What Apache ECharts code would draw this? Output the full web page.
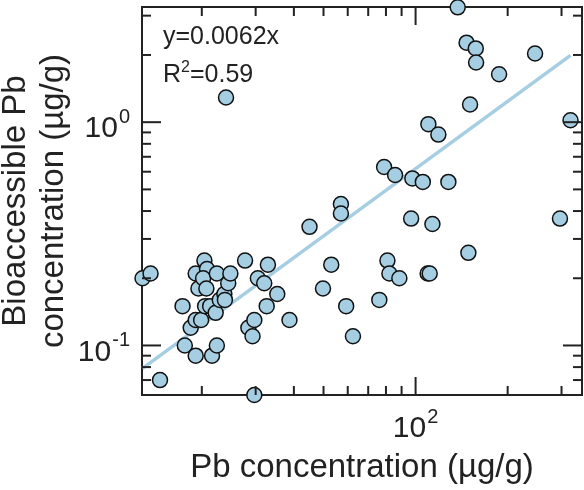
<!DOCTYPE html>
<html>
<head>
<meta charset="utf-8">
<script src="https://cdn.jsdelivr.net/npm/echarts@6/dist/echarts.min.js"></script>
<style>
html, body { margin: 0; padding: 0; background: #fff; }
#chart { width: 584px; height: 490px; }
</style>
</head>
<body>
<div id="chart"></div>
<script>
// Pb concentration (µg/g)
const pbTotal = [12.8, 13.6, 14.6, 17.3, 17.6, 18.4, 19.1, 19.1, 19.9, 19.1,
    19.5, 20.4, 20.8, 20.2, 20.7, 20.5, 21.3, 21.6, 22.4, 22.2,
    22.4, 22.9, 23.7, 23.8, 24.4, 24.8, 24.0, 27.7, 28.4, 29.7,
    29.3, 29.7, 30.5, 32.0, 32.9, 32.6, 35.3, 38.7, 45.0, 49.8,
    53.0, 57.0, 57.0, 59.3, 62.4, 76.1, 78.9, 80.9, 82.1, 85.7,
    88.5, 96.7, 97.6, 105.6, 110.1, 109.5, 111.2, 113.5, 118.7, 128,
    137.3, 146.8, 148.8, 150.7, 157.3, 157.7, 187.5, 245.8, 296.5, 321];
// Bioaccessible Pb (µg/g)
const pbBio = [0.20, 0.21, 0.07, 0.15, 0.10, 0.12, 0.09, 0.13, 0.13, 0.21,
    0.18, 0.24, 0.22, 0.20, 0.18, 0.15, 0.15, 0.09, 0.10, 0.14,
    0.21, 0.16, 0.17, 0.16, 0.19, 0.21, 1.29, 0.24, 0.12, 0.13,
    0.11, 0.06, 0.20, 0.19, 0.23, 0.15, 0.17, 0.13, 0.34, 0.18,
    0.23, 0.43, 0.39, 0.15, 0.11, 0.16, 0.63, 0.24, 0.21, 0.58,
    0.20, 0.37, 0.56, 0.54, 0.98, 0.21, 0.21, 0.35, 0.88, 0.54,
    3.27, 2.27, 0.26, 1.20, 2.14, 1.85, 1.64, 2.03, 0.37, 1.02];
// fit line y = 0.0062x, ends of data range
const fitX = [12.8, 321];
const fitY = [0.079, 1.99];

const xMajorTicks = [100];
const xMinorTicks = [20, 30, 40, 50, 60, 70, 80, 90, 200, 300];
const yMajorTicks = [0.1, 1];
const yMinorTicks = [0.07, 0.08, 0.09, 0.2, 0.3, 0.4, 0.5, 0.6, 0.7, 0.8, 0.9, 2, 3];

const X_MIN = 12.75, X_MAX = 350;
const Y_MIN = 0.06, Y_MAX = 3.28;
const FONT = "Liberation Sans";
const AXIS_COLOR = "#222";
const DOT_COLOR = "#a6cee3";

function powLabel(v) {
    const e = Math.log10(v);
    if (Math.abs(e - Math.round(e)) > 1e-6) return "";
    return "{b|10}{s|" + Math.round(e) + "}";
}

// base "10" pushed down by top padding, exponent lifted by bottom padding
const labelRich = {
    b: { fontSize: 30, lineHeight: 30, padding: [14, 0, 0, 0], fontFamily: FONT, color: AXIS_COLOR },
    s: { fontSize: 20, lineHeight: 20, padding: [0, 0, 10, 1], fontFamily: FONT, color: AXIS_COLOR },
};

// tick marks on all four sides, placed by the axis scales
function tickSeries(values, dir, len) {
    return {
        type: "custom",
        silent: true,
        clip: false,
        z: 5,
        data: values.map(v => [v, v]),
        renderItem: function (params, api) {
            const v = api.value(0);
            let lines;
            if (dir === "x") {
                const a = api.coord([v, Y_MIN]), b = api.coord([v, Y_MAX]);
                lines = [[a[0], a[1], a[0], a[1] - len], [b[0], b[1], b[0], b[1] + len]];
            } else {
                const a = api.coord([X_MIN, v]), b = api.coord([X_MAX, v]);
                lines = [[a[0], a[1], a[0] + len, a[1]], [b[0], b[1], b[0] - len, b[1]]];
            }
            return {
                type: "group",
                children: lines.map(l => ({
                    type: "line",
                    shape: { x1: l[0], y1: l[1], x2: l[2], y2: l[3] },
                    style: { stroke: AXIS_COLOR, lineWidth: 2 },
                })),
            };
        },
    };
}

const chart = echarts.init(document.getElementById("chart"));
chart.setOption({
    animation: false,
    grid: {
        left: 142, right: 2, top: 7, bottom: 95,
        outerBoundsMode: "none",
        containLabel: false,
        show: true, borderColor: AXIS_COLOR, borderWidth: 2,
    },
    xAxis: {
        type: "log",
        min: X_MIN, max: X_MAX,
        axisLine: { show: false },
        axisTick: { show: false },
        splitLine: { show: false },
        axisLabel: { formatter: powLabel, margin: 12, rich: labelRich },
    },
    yAxis: {
        type: "log",
        min: Y_MIN, max: Y_MAX,
        axisLine: { show: false },
        axisTick: { show: false },
        splitLine: { show: false },
        axisLabel: { formatter: powLabel, margin: 12, rich: labelRich },
        name: "Bioaccessible Pb\nconcentration (µg/g)",
        nameLocation: "middle",
        nameRotate: 90,
        nameGap: 69,
        nameMoveOverlap: false,
        nameTextStyle: { fontSize: 33, lineHeight: 38, fontFamily: FONT, color: AXIS_COLOR },
    },
    graphic: [
        {
            // x axis title
            type: "text", x: 362, y: 468, z: 10,
            style: {
                text: "Pb concentration (µg/g)", font: "33px " + FONT, fill: AXIS_COLOR,
                textAlign: "center", textVerticalAlign: "middle",
            },
        },
        {
            type: "text", left: 163, top: 25, z: 10,
            style: { text: "y=0.0062x", font: "25px " + FONT, fill: AXIS_COLOR },
        },
        {
            type: "text", left: 163, top: 55, z: 10,
            style: {
                text: "{n|R}{s|2}{n|=0.59}",
                rich: {
                    n: { fontSize: 25, lineHeight: 25, padding: [8, 0, 0, 0], fontFamily: FONT, fill: AXIS_COLOR },
                    s: { fontSize: 16, lineHeight: 16, padding: [0, 0, 8, 0], fontFamily: FONT, fill: AXIS_COLOR },
                },
            },
        },
    ],
    series: [
        {
            type: "line",
            data: fitX.map((x, i) => [x, fitY[i]]),
            symbol: "none",
            lineStyle: { color: DOT_COLOR, width: 3.5 },
            z: 2,
        },
        {
            type: "scatter",
            data: pbTotal.map((x, i) => [x, pbBio[i]]),
            symbolSize: 15,
            clip: false,
            itemStyle: { color: DOT_COLOR, borderColor: "#111", borderWidth: 1.5, opacity: 1 },
            z: 3,
        },
        tickSeries(xMajorTicks, "x", 18),
        tickSeries(xMinorTicks, "x", 9),
        tickSeries(yMajorTicks, "y", 19),
        tickSeries(yMinorTicks, "y", 9),
    ],
});
</script>
</body>
</html>
